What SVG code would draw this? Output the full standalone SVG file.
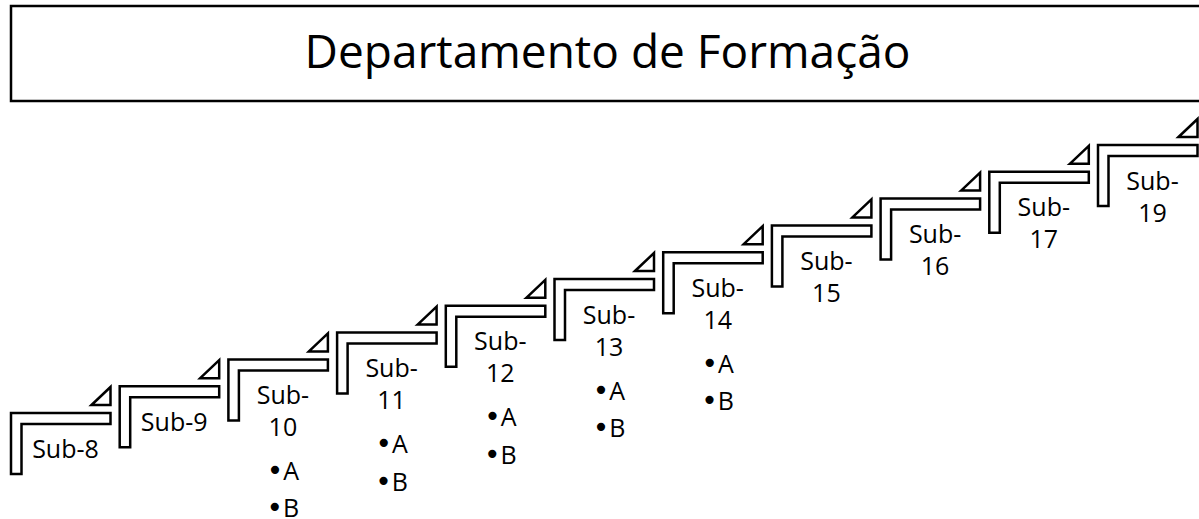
<svg xmlns="http://www.w3.org/2000/svg" width="1199" height="519" viewBox="0 0 1199 519">
<style>
.frame{fill:#fff;stroke:#000;stroke-width:2.5;stroke-linejoin:miter}
.tri{fill:#fff;stroke:#000;stroke-width:2.5;stroke-linejoin:miter}
.lbl{font-family:"Open Sans","Liberation Sans",sans-serif;font-size:25px;fill:#000;text-anchor:middle}
.bul{font-family:"DejaVu Sans",sans-serif;font-size:28px}
.title{font-family:"Open Sans","Liberation Sans",sans-serif;font-size:46px;fill:#000;text-anchor:middle}
</style>
<defs>
<path id="half" class="frame" d="M0,0 H99.5 V11 H10.5 V61 H0 Z"/>
<path id="corner" class="tri" d="M80.5,-8 L99.5,-26 V-8 Z"/>
</defs>
<g id="title">
<rect x="11" y="6" width="1193" height="95" fill="#fff" stroke="#000" stroke-width="2.5"/>
<text class="title" x="607.5" y="68">Departamento de Formação</text>
</g>
<g id="connectors"></g>
<g id="sub8" transform="translate(11,413)">
<use href="#half"/><use href="#corner"/>
<text class="lbl" x="54.5" y="44.5">Sub-8</text>
</g>
<g id="sub9" transform="translate(119.7,386.2)">
<use href="#half"/><use href="#corner"/>
<text class="lbl" x="54.5" y="44.5">Sub-9</text>
</g>
<g id="sub10" transform="translate(228.4,359.4)">
<use href="#half"/><use href="#corner"/>
<text class="lbl" x="54.5" y="44.5">Sub-</text>
<text class="lbl" x="54.5" y="76.5">10</text>
<text class="lbl" x="54.5" y="120.5"><tspan class="bul">•</tspan>A</text>
<text class="lbl" x="54.5" y="158"><tspan class="bul">•</tspan>B</text>
</g>
<g id="sub11" transform="translate(337.1,332.6)">
<use href="#half"/><use href="#corner"/>
<text class="lbl" x="54.5" y="44.5">Sub-</text>
<text class="lbl" x="54.5" y="76.5">11</text>
<text class="lbl" x="54.5" y="120.5"><tspan class="bul">•</tspan>A</text>
<text class="lbl" x="54.5" y="158"><tspan class="bul">•</tspan>B</text>
</g>
<g id="sub12" transform="translate(445.8,305.8)">
<use href="#half"/><use href="#corner"/>
<text class="lbl" x="54.5" y="44.5">Sub-</text>
<text class="lbl" x="54.5" y="76.5">12</text>
<text class="lbl" x="54.5" y="120.5"><tspan class="bul">•</tspan>A</text>
<text class="lbl" x="54.5" y="158"><tspan class="bul">•</tspan>B</text>
</g>
<g id="sub13" transform="translate(554.5,279)">
<use href="#half"/><use href="#corner"/>
<text class="lbl" x="54.5" y="44.5">Sub-</text>
<text class="lbl" x="54.5" y="76.5">13</text>
<text class="lbl" x="54.5" y="120.5"><tspan class="bul">•</tspan>A</text>
<text class="lbl" x="54.5" y="158"><tspan class="bul">•</tspan>B</text>
</g>
<g id="sub14" transform="translate(663.2,252.2)">
<use href="#half"/><use href="#corner"/>
<text class="lbl" x="54.5" y="44.5">Sub-</text>
<text class="lbl" x="54.5" y="76.5">14</text>
<text class="lbl" x="54.5" y="120.5"><tspan class="bul">•</tspan>A</text>
<text class="lbl" x="54.5" y="158"><tspan class="bul">•</tspan>B</text>
</g>
<g id="sub15" transform="translate(771.9,225.4)">
<use href="#half"/><use href="#corner"/>
<text class="lbl" x="54.5" y="44.5">Sub-</text>
<text class="lbl" x="54.5" y="76.5">15</text>
</g>
<g id="sub16" transform="translate(880.6,198.6)">
<use href="#half"/><use href="#corner"/>
<text class="lbl" x="54.5" y="44.5">Sub-</text>
<text class="lbl" x="54.5" y="76.5">16</text>
</g>
<g id="sub17" transform="translate(989.3,171.8)">
<use href="#half"/><use href="#corner"/>
<text class="lbl" x="54.5" y="44.5">Sub-</text>
<text class="lbl" x="54.5" y="76.5">17</text>
</g>
<g id="sub19" transform="translate(1098,145)">
<use href="#half"/><use href="#corner"/>
<text class="lbl" x="54.5" y="44.5">Sub-</text>
<text class="lbl" x="54.5" y="76.5">19</text>
</g>
</svg>
